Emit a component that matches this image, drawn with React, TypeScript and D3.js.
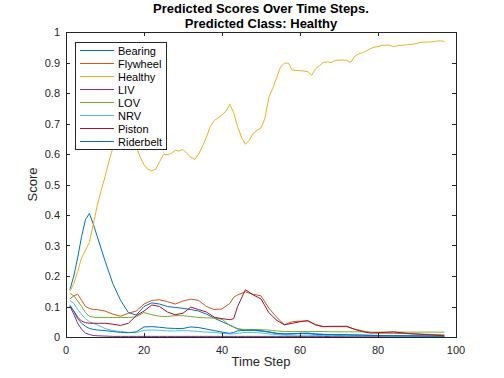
import React from "react";
import * as d3 from "d3";

const steps = [1, 2, 3, 4, 5, 6, 7, 8, 10, 12, 14, 16, 18, 20, 22, 24, 26, 28, 30, 32, 34, 36, 38, 40, 42, 43, 44, 46, 48, 50, 52, 54, 56, 58, 60, 62, 64, 66, 68, 70, 72, 74, 76, 78, 80, 84, 88, 92, 97];

const bearing = [0.155, 0.2, 0.26, 0.33, 0.385, 0.405, 0.37, 0.33, 0.25, 0.175, 0.12, 0.08, 0.072, 0.1, 0.112, 0.108, 0.1, 0.097, 0.094, 0.09, 0.085, 0.075, 0.062, 0.05, 0.039, 0.033, 0.027, 0.022, 0.022, 0.02, 0.017, 0.012, 0.01, 0.01, 0.012, 0.013, 0.01, 0.009, 0.008, 0.008, 0.007, 0.007, 0.006, 0.006, 0.005, 0.005, 0.004, 0.004, 0.003];
const flywheel = [0.125, 0.135, 0.14, 0.12, 0.1, 0.094, 0.09, 0.09, 0.085, 0.075, 0.068, 0.078, 0.085, 0.108, 0.12, 0.122, 0.116, 0.108, 0.118, 0.124, 0.12, 0.1, 0.09, 0.092, 0.11, 0.13, 0.138, 0.148, 0.14, 0.135, 0.095, 0.065, 0.04, 0.05, 0.052, 0.052, 0.04, 0.034, 0.034, 0.034, 0.034, 0.026, 0.02, 0.015, 0.013, 0.012, 0.011, 0.009, 0.007];
const liv = [0.1, 0.075, 0.045, 0.025, 0.013, 0.008, 0.005, 0.004, 0.003, 0.002, 0.002, 0.002, 0.002, 0.002, 0.002, 0.002, 0.002, 0.002, 0.002, 0.002, 0.002, 0.002, 0.002, 0.002, 0.002, 0.002, 0.002, 0.002, 0.002, 0.002, 0.002, 0.002, 0.002, 0.002, 0.002, 0.002, 0.002, 0.002, 0.001, 0.001, 0.001, 0.001, 0.001, 0.001, 0.001, 0.001, 0.001, 0.001, 0.001];
const lov = [0.143, 0.135, 0.118, 0.1, 0.08, 0.068, 0.065, 0.064, 0.064, 0.064, 0.064, 0.064, 0.066, 0.08, 0.073, 0.068, 0.067, 0.07, 0.07, 0.067, 0.064, 0.063, 0.062, 0.058, 0.038, 0.032, 0.026, 0.025, 0.025, 0.024, 0.023, 0.02, 0.018, 0.018, 0.018, 0.018, 0.018, 0.018, 0.017, 0.017, 0.017, 0.017, 0.017, 0.016, 0.016, 0.016, 0.016, 0.016, 0.016];
const nrv = [0.12, 0.11, 0.09, 0.075, 0.06, 0.05, 0.045, 0.04, 0.028, 0.021, 0.018, 0.015, 0.014, 0.022, 0.023, 0.022, 0.02, 0.02, 0.021, 0.02, 0.018, 0.016, 0.015, 0.012, 0.01, 0.01, 0.012, 0.015, 0.015, 0.013, 0.01, 0.008, 0.006, 0.006, 0.006, 0.006, 0.005, 0.005, 0.005, 0.005, 0.004, 0.004, 0.004, 0.004, 0.004, 0.003, 0.003, 0.003, 0.003];
const piston = [0.1, 0.085, 0.065, 0.052, 0.047, 0.045, 0.045, 0.045, 0.045, 0.042, 0.038, 0.045, 0.07, 0.085, 0.105, 0.1, 0.082, 0.073, 0.078, 0.098, 0.09, 0.082, 0.065, 0.06, 0.057, 0.06, 0.1, 0.155, 0.138, 0.125, 0.08, 0.055, 0.04, 0.045, 0.05, 0.054, 0.04, 0.034, 0.035, 0.035, 0.035, 0.025, 0.018, 0.013, 0.014, 0.017, 0.011, 0.008, 0.004];
const riderbelt = [0.105, 0.085, 0.06, 0.045, 0.035, 0.028, 0.025, 0.023, 0.021, 0.018, 0.015, 0.014, 0.017, 0.033, 0.034, 0.032, 0.029, 0.028, 0.028, 0.033, 0.031, 0.026, 0.021, 0.016, 0.012, 0.015, 0.02, 0.022, 0.023, 0.02, 0.016, 0.012, 0.01, 0.011, 0.012, 0.011, 0.009, 0.008, 0.008, 0.007, 0.007, 0.006, 0.006, 0.005, 0.005, 0.004, 0.004, 0.003, 0.003];

const healthySteps = d3.range(1, 98);
const healthy = [0.15, 0.175, 0.215, 0.26, 0.285, 0.31, 0.37, 0.43, 0.48, 0.525, 0.575, 0.62, 0.66, 0.69, 0.7, 0.69, 0.66, 0.625, 0.59, 0.565, 0.55, 0.545, 0.55, 0.575, 0.598, 0.598, 0.602, 0.612, 0.61, 0.615, 0.602, 0.59, 0.582, 0.6, 0.625, 0.655, 0.69, 0.71, 0.718, 0.728, 0.74, 0.763, 0.735, 0.69, 0.655, 0.632, 0.645, 0.668, 0.678, 0.685, 0.717, 0.785, 0.815, 0.85, 0.885, 0.898, 0.898, 0.875, 0.874, 0.873, 0.872, 0.87, 0.858, 0.88, 0.89, 0.9, 0.902, 0.9, 0.907, 0.908, 0.908, 0.907, 0.9, 0.92, 0.928, 0.932, 0.938, 0.945, 0.95, 0.952, 0.956, 0.957, 0.957, 0.952, 0.955, 0.957, 0.957, 0.959, 0.96, 0.963, 0.966, 0.967, 0.967, 0.968, 0.97, 0.971, 0.969];

const classNames = ["Bearing", "Flywheel", "Healthy", "LIV", "LOV", "NRV", "Piston", "Riderbelt"];
const classColors = ["#0072BD", "#D95319", "#EDB120", "#7E2F8E", "#77AC30", "#4DBEEE", "#A2142F", "#0072BD"];

const xTicks = [0, 20, 40, 60, 80, 100];
const yTicks = [0, 0.1, 0.2, 0.3, 0.4, 0.5, 0.6, 0.7, 0.8, 0.9, 1];

const W = 504, H = 378;
const L = 66, R = 456, T = 32, B = 337;
const FONT = "Liberation Sans, Arial, Helvetica, sans-serif";
const AX = "#262626";

export default function App() {
  const x = d3.scaleLinear().domain([0, 100]).range([L, R]);
  const y = d3.scaleLinear().domain([0, 1]).range([B, T]);
  const line = d3.line<[number, number]>().x((d) => x(d[0])).y((d) => y(d[1])).curve(d3.curveLinear);

  const seriesValues = [bearing, flywheel, healthy, liv, lov, nrv, piston, riderbelt];
  const series = seriesValues.map((vals, i) => {
    const xs = classNames[i] === "Healthy" ? healthySteps : steps;
    return { name: classNames[i], color: classColors[i], pts: vals.map((v, j) => [xs[j], v] as [number, number]) };
  });

  const tickLen = 4;
  const legX = 75.5, legY = 42.5, legW = 91, legH = 107, rowH = 13;

  return (
    <svg width={W} height={H} style={{ position: "absolute", left: 0, top: 0, background: "#fff" }} fontFamily={FONT}>
      <rect x={0} y={0} width={W} height={H} fill="#fff" />
      <text x={(L + R) / 2} y={12.5} textAnchor="middle" fontSize={13} fontWeight="bold" fill="#000">Predicted Scores Over Time Steps.</text>
      <text x={(L + R) / 2} y={27.5} textAnchor="middle" fontSize={13} fontWeight="bold" fill="#000">Predicted Class: Healthy</text>

      <g>
        {series.map((s) => (
          <path key={s.name} d={line(s.pts) || ""} fill="none" stroke={s.color} strokeWidth={1} />
        ))}
      </g>

      <rect x={L + 0.5} y={T + 0.5} width={R - L} height={B - T} fill="none" stroke={AX} strokeWidth={1} />
      {xTicks.map((t) => (
        <g key={"x" + t}>
          <line x1={Math.round(x(t)) + 0.5} x2={Math.round(x(t)) + 0.5} y1={B} y2={B - tickLen} stroke={AX} />
          <line x1={Math.round(x(t)) + 0.5} x2={Math.round(x(t)) + 0.5} y1={T} y2={T + tickLen} stroke={AX} />
          <text x={x(t)} y={353.5} textAnchor="middle" fontSize={11} fill={AX}>{t}</text>
        </g>
      ))}
      {yTicks.map((t) => (
        <g key={"y" + t}>
          <line x1={L} x2={L + tickLen} y1={Math.round(y(t)) + 0.5} y2={Math.round(y(t)) + 0.5} stroke={AX} />
          <line x1={R} x2={R - tickLen} y1={Math.round(y(t)) + 0.5} y2={Math.round(y(t)) + 0.5} stroke={AX} />
          <text x={60} y={y(t) + 4} textAnchor="end" fontSize={11} fill={AX}>{String(t)}</text>
        </g>
      ))}
      <text x={(L + R) / 2} y={366} textAnchor="middle" fontSize={13} fill={AX}>Time Step</text>
      <text transform={`translate(37,${(T + B) / 2}) rotate(-90)`} textAnchor="middle" fontSize={13} fill={AX}>Score</text>

      <g>
        <rect x={legX} y={legY} width={legW} height={legH} fill="#fff" stroke={AX} strokeWidth={1} />
        {series.map((s, i) => (
          <g key={"leg" + s.name}>
            <line x1={80} x2={114} y1={legY + 8 + i * rowH} y2={legY + 8 + i * rowH} stroke={s.color} strokeWidth={1} />
            <text x={118} y={legY + 12 + i * rowH} fontSize={11} fill="#000">{s.name}</text>
          </g>
        ))}
      </g>
    </svg>
  );
}
